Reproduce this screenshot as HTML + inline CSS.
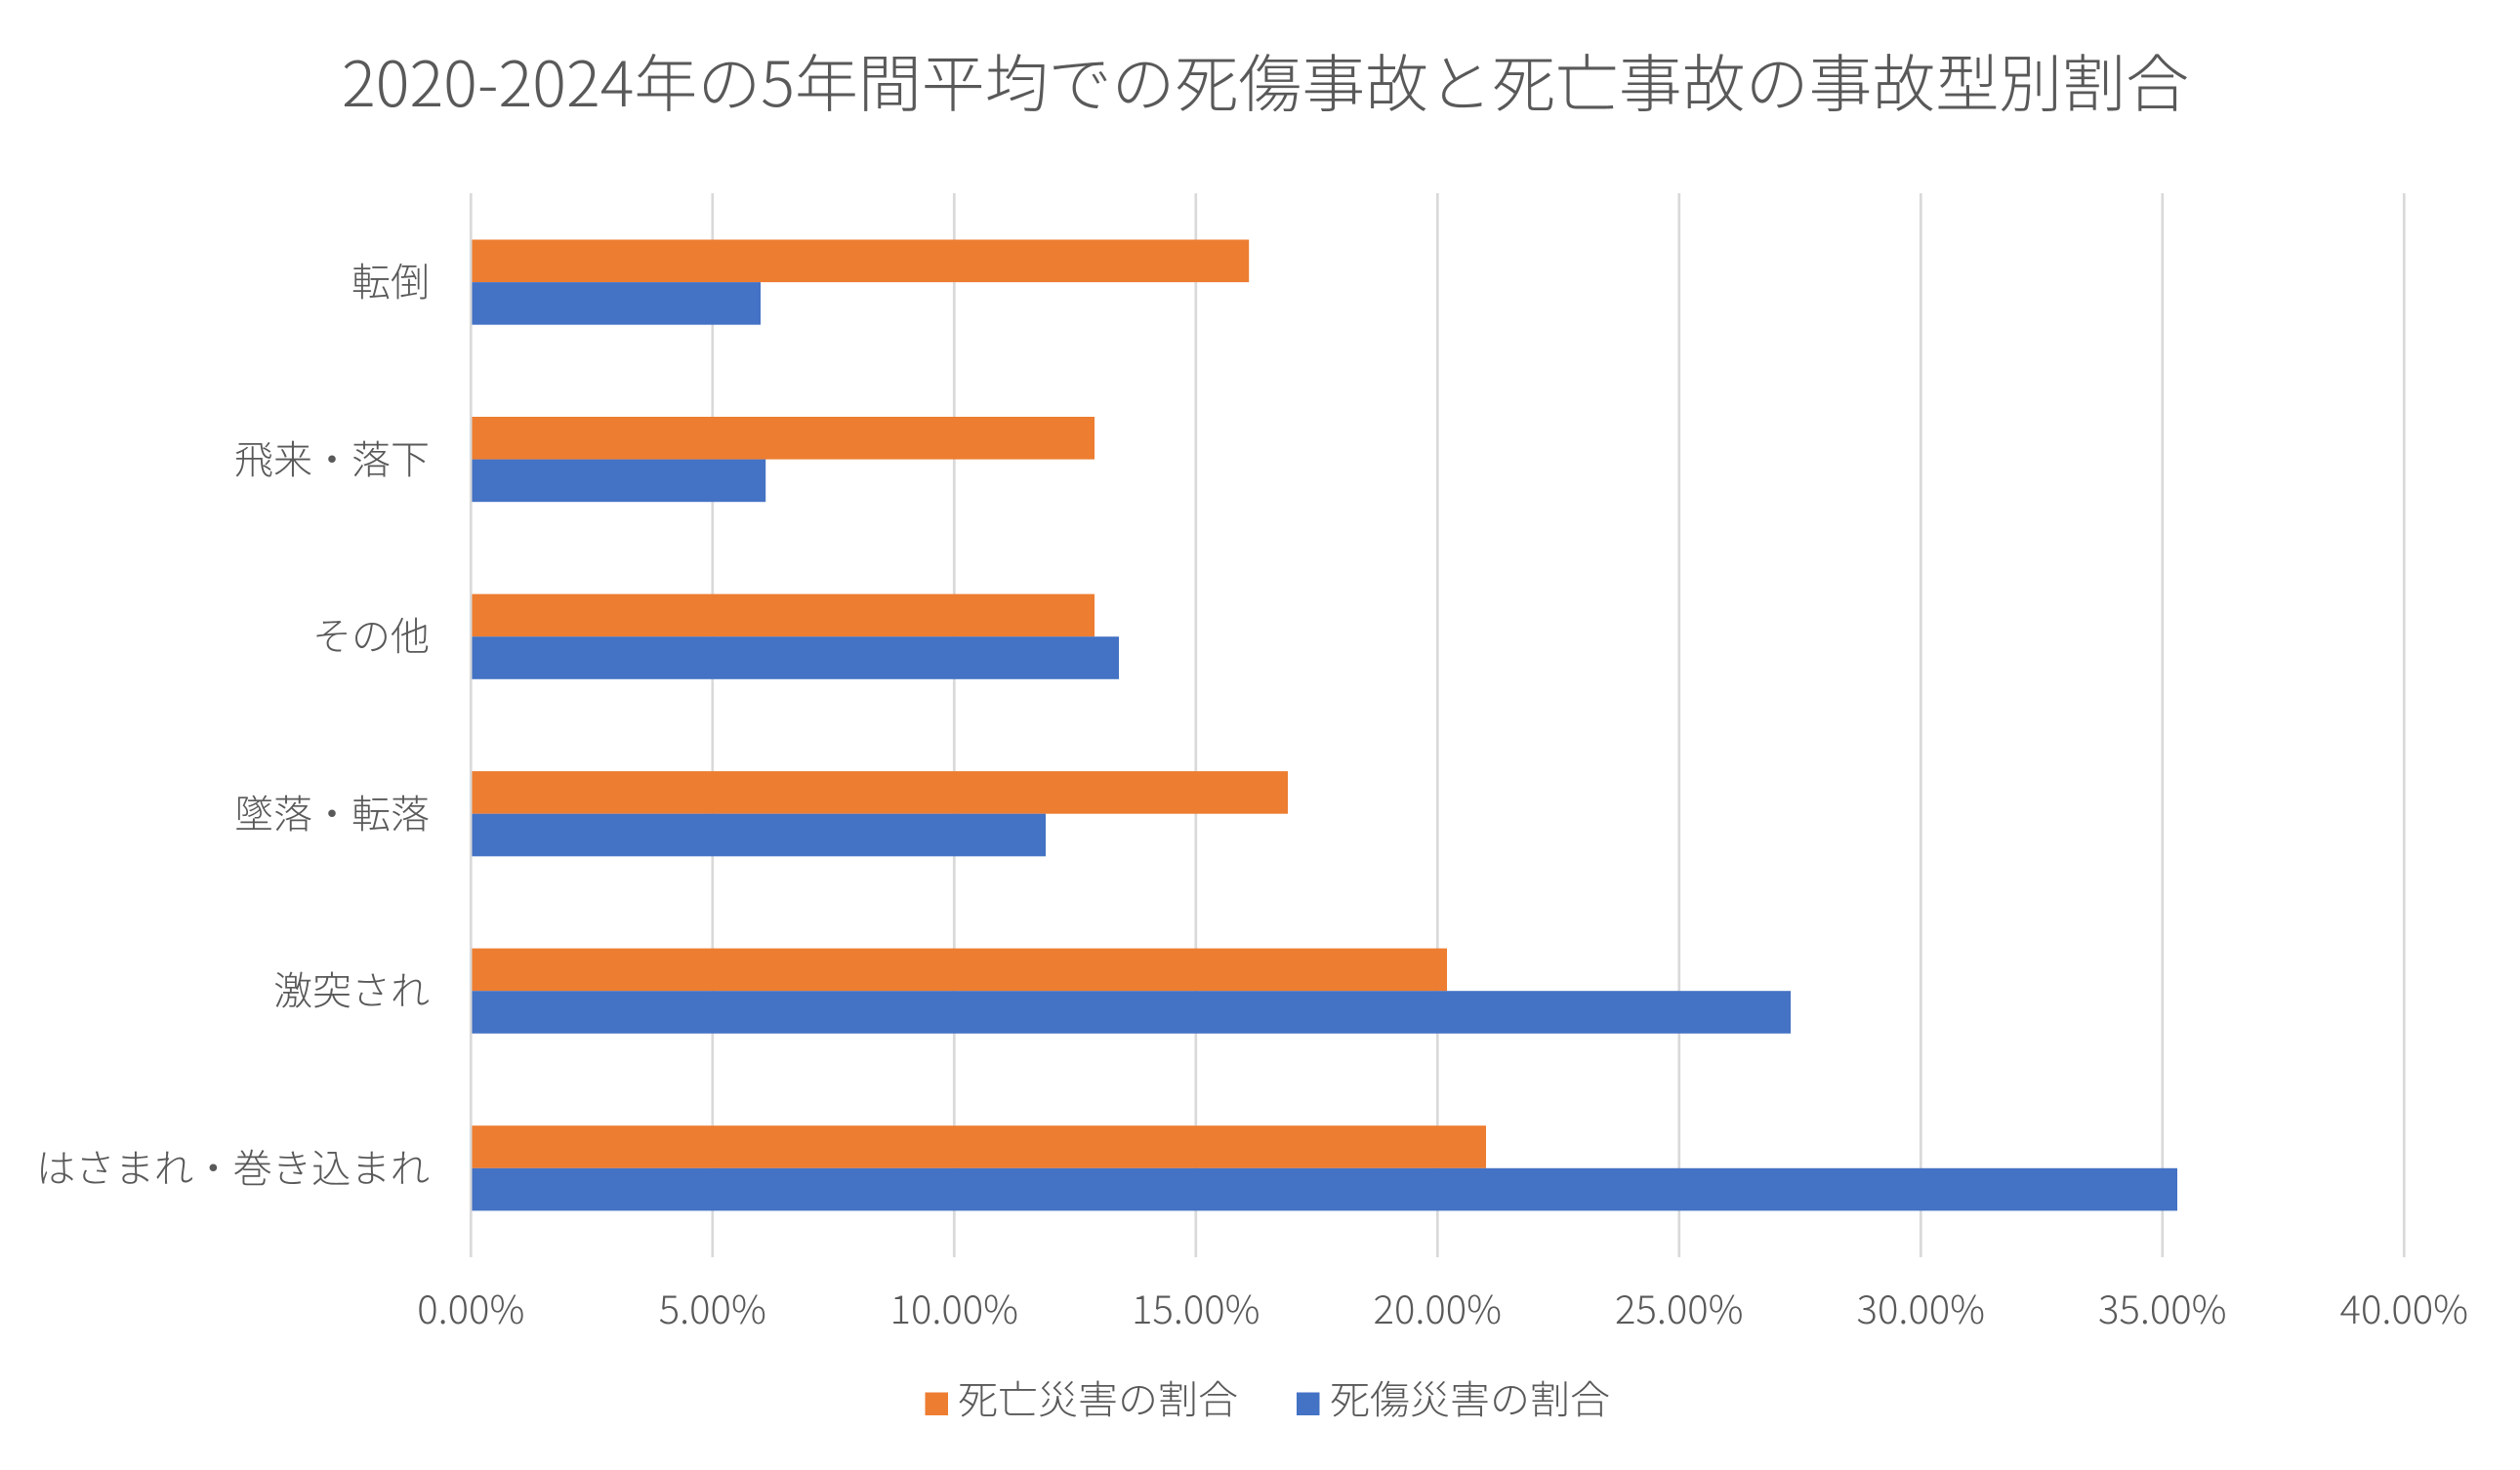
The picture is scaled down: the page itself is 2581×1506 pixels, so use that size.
<!DOCTYPE html>
<html>
<head>
<meta charset="utf-8">
<style>
html,body{margin:0;padding:0;background:#ffffff;}
svg{display:block;}
text{font-family:"Noto Sans CJK JP","Liberation Sans",sans-serif;fill:#595959;font-weight:300;}
</style>
</head>
<body>
<svg width="2581" height="1506" viewBox="0 0 2581 1506" xmlns="http://www.w3.org/2000/svg">
<rect x="0" y="0" width="2581" height="1506" fill="#ffffff"/>

<!-- Title -->
<text x="350" y="109" font-size="64" textLength="1892" lengthAdjust="spacingAndGlyphs">2020-2024年の5年間平均での死傷事故と死亡事故の事故型別割合</text>

<!-- Gridlines -->
<g stroke="#D9D9D9" stroke-width="2.7">
<line x1="482.3" y1="198" x2="482.3" y2="1288"/>
<line x1="729.8" y1="198" x2="729.8" y2="1288"/>
<line x1="977.3" y1="198" x2="977.3" y2="1288"/>
<line x1="1224.8" y1="198" x2="1224.8" y2="1288"/>
<line x1="1472.3" y1="198" x2="1472.3" y2="1288"/>
<line x1="1719.8" y1="198" x2="1719.8" y2="1288"/>
<line x1="1967.3" y1="198" x2="1967.3" y2="1288"/>
<line x1="2214.8" y1="198" x2="2214.8" y2="1288"/>
<line x1="2462.3" y1="198" x2="2462.3" y2="1288"/>
</g>

<!-- Bars -->
<g>
<rect x="483.5" y="245.5" width="795.7" height="43.6" fill="#ED7D31"/>
<rect x="483.5" y="289.1" width="295.5" height="43.6" fill="#4472C4"/>
<rect x="483.5" y="427.0" width="637.5" height="43.6" fill="#ED7D31"/>
<rect x="483.5" y="470.6" width="300.7" height="43.6" fill="#4472C4"/>
<rect x="483.5" y="608.6" width="637.5" height="43.6" fill="#ED7D31"/>
<rect x="483.5" y="652.2" width="662.5" height="43.6" fill="#4472C4"/>
<rect x="483.5" y="790.1" width="835.5" height="43.6" fill="#ED7D31"/>
<rect x="483.5" y="833.7" width="587.5" height="43.6" fill="#4472C4"/>
<rect x="483.5" y="971.6" width="998.5" height="43.6" fill="#ED7D31"/>
<rect x="483.5" y="1015.2" width="1350.5" height="43.6" fill="#4472C4"/>
<rect x="483.5" y="1153.2" width="1038.5" height="43.6" fill="#ED7D31"/>
<rect x="483.5" y="1196.8" width="1746.5" height="43.6" fill="#4472C4"/>
</g>

<!-- Category labels -->
<g font-size="40" text-anchor="end">
<text x="440" y="303">転倒</text>
<text x="440" y="485">飛来・落下</text>
<text x="440" y="666">その他</text>
<text x="440" y="848">墜落・転落</text>
<text x="440" y="1029">激突され</text>
<text x="440" y="1211" textLength="403" lengthAdjust="spacingAndGlyphs">はさまれ・巻き込まれ</text>
</g>

<!-- X tick labels -->
<g font-size="40" text-anchor="middle">
<text x="482.3" y="1356">0.00%</text>
<text x="729.8" y="1356">5.00%</text>
<text x="977.3" y="1356">10.00%</text>
<text x="1224.8" y="1356">15.00%</text>
<text x="1472.3" y="1356">20.00%</text>
<text x="1719.8" y="1356">25.00%</text>
<text x="1967.3" y="1356">30.00%</text>
<text x="2214.8" y="1356">35.00%</text>
<text x="2462.3" y="1356">40.00%</text>
</g>

<!-- Legend -->
<rect x="947.5" y="1426.5" width="23.5" height="23.5" fill="#ED7D31"/>
<text x="981" y="1448" font-size="40" textLength="287" lengthAdjust="spacingAndGlyphs">死亡災害の割合</text>
<rect x="1328" y="1426.5" width="23.5" height="23.5" fill="#4472C4"/>
<text x="1362" y="1448" font-size="40" textLength="287" lengthAdjust="spacingAndGlyphs">死傷災害の割合</text>
</svg>
</body>
</html>
